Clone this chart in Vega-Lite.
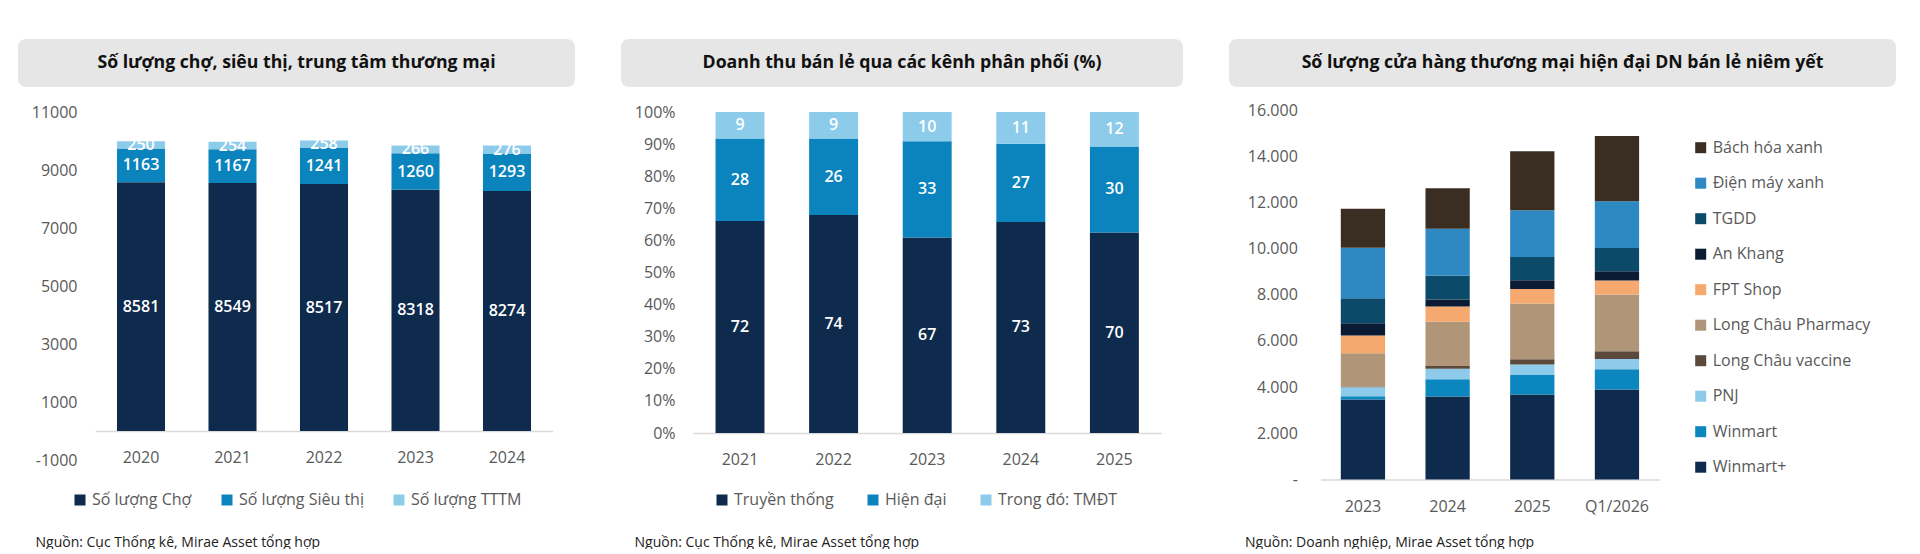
{
  "$schema": "https://vega.github.io/schema/vega-lite/v6.json",
  "background": "white",
  "padding": {"left": 18, "top": 39, "right": 0, "bottom": 0},
  "autosize": {"type": "pad"},
  "spacing": 46,
  "resolve": {"scale": {"x": "independent", "y": "independent", "color": "independent"}, "legend": {"color": "independent"}, "axis": {"x": "independent", "y": "independent"}},
  "config": {
    "font": "Open Sans",
    "view": {"stroke": null},
    "axis": {"labelFont": "Open Sans", "titleFont": "Open Sans", "labelOverlap": false},
    "legend": {"labelFont": "Open Sans", "padding": 0}
  },
  "hconcat": [
    {
      "bounds": "flush",
      "spacing": 25,
      "resolve": {"scale": {"x": "independent", "y": "independent", "color": "independent"}, "legend": {"color": "independent"}},
      "vconcat": [
        {
          "width": 557, "height": 48,
          "view": {"fill": "#e6e6e6", "stroke": null, "cornerRadius": 8},
          "data": {"values": [{"t": "Số lượng chợ, siêu thị, trung tâm thương mại"}]},
          "mark": {"type": "text", "fontSize": 17.7, "fontWeight": "bold", "color": "#111111"},
          "encoding": {"text": {"field": "t"}}
        },
        {
          "width": 557, "height": 348,
          "data": {"values": [
            {"period": "2020", "series": "Số lượng Chợ", "value": 8581},
            {"period": "2020", "series": "Số lượng Siêu thị", "value": 1163},
            {"period": "2020", "series": "Số lượng TTTM", "value": 250},
            {"period": "2021", "series": "Số lượng Chợ", "value": 8549},
            {"period": "2021", "series": "Số lượng Siêu thị", "value": 1167},
            {"period": "2021", "series": "Số lượng TTTM", "value": 254},
            {"period": "2022", "series": "Số lượng Chợ", "value": 8517},
            {"period": "2022", "series": "Số lượng Siêu thị", "value": 1241},
            {"period": "2022", "series": "Số lượng TTTM", "value": 258},
            {"period": "2023", "series": "Số lượng Chợ", "value": 8318},
            {"period": "2023", "series": "Số lượng Siêu thị", "value": 1260},
            {"period": "2023", "series": "Số lượng TTTM", "value": 266},
            {"period": "2024", "series": "Số lượng Chợ", "value": 8274},
            {"period": "2024", "series": "Số lượng Siêu thị", "value": 1293},
            {"period": "2024", "series": "Số lượng TTTM", "value": 276}
          ]},
          "transform": [
            {"calculate": "indexof(['Số lượng Chợ','Số lượng Siêu thị','Số lượng TTTM'], datum.series)", "as": "k"},
            {"stack": "value", "groupby": ["period"], "sort": [{"field": "k"}], "as": ["v0", "v1"]},
            {"calculate": "(datum.v0 + datum.v1) / 2", "as": "vm"}
          ],
          "encoding": {
            "x": {
              "field": "period", "type": "ordinal", "sort": null,
              "scale": {"range": [77.25, 534.75], "paddingInner": 0.475, "paddingOuter": 0.2375},
              "axis": {
                "labelAngle": 0, "labelFontSize": 16, "labelColor": "#595959", "labelPadding": 18,
                "ticks": false, "domainColor": "#d9d9d9", "domainWidth": 1.5, "offset": -29,
                "title": "Nguồn: Cục Thống kê, Mirae Asset tổng hợp",
                "titleX": 17, "titleY": 111, "titleAlign": "left", "titleAnchor": "start", "titleBaseline": "middle",
                "titleFontSize": 14, "titleFontWeight": "normal", "titleColor": "#222222"
              }
            }
          },
          "layer": [
            {
              "mark": {"type": "bar"},
              "encoding": {
                "y": {
                  "field": "v0", "type": "quantitative",
                  "scale": {"domain": [-1000, 11000], "nice": false, "zero": false},
                  "axis": {
                    "values": [-1000, 1000, 3000, 5000, 7000, 9000, 11000],
                    "labelExpr": "'' + datum.value", "labelOverlap": false,
                    "labelFontSize": 16, "labelColor": "#595959", "domain": false, "ticks": false, "grid": false,
                    "offset": -59, "labelPadding": 0, "title": null
                  }
                },
                "y2": {"field": "v1"},
                "color": {
                  "field": "series", "type": "nominal",
                  "scale": {"domain": ["Số lượng Chợ", "Số lượng Siêu thị", "Số lượng TTTM"], "range": ["#0e2a4d", "#0b84bd", "#8dcbea"]},
                  "legend": {
                    "orient": "none", "legendX": 54, "legendY": 380, "direction": "horizontal", "title": null,
                    "symbolType": "square", "symbolSize": 121, "symbolStrokeWidth": 0,
                    "labelFontSize": 16, "labelColor": "#595959", "columnPadding": 27, "labelOffset": 4, "labelLimit": 300
                  }
                }
              }
            },
            {
              "mark": {"type": "text", "color": "white", "fontSize": 16, "fontWeight": 600},
              "encoding": {
                "y": {"field": "vm", "type": "quantitative"},
                "text": {"field": "value", "type": "quantitative", "format": "d"}
              }
            }
          ]
        }
      ]
    },
    {
      "bounds": "flush",
      "spacing": 25,
      "resolve": {"scale": {"x": "independent", "y": "independent", "color": "independent"}, "legend": {"color": "independent"}},
      "vconcat": [
        {
          "width": 562, "height": 48,
          "view": {"fill": "#e6e6e6", "stroke": null, "cornerRadius": 8},
          "data": {"values": [{"t": "Doanh thu bán lẻ qua các kênh phân phối (%)"}]},
          "mark": {"type": "text", "fontSize": 17.7, "fontWeight": "bold", "color": "#111111"},
          "encoding": {"text": {"field": "t"}}
        },
        {
          "width": 562, "height": 321,
          "data": {"values": [
            {"period": "2021", "series": "Truyền thống", "value": 72},
            {"period": "2021", "series": "Hiện đại", "value": 28},
            {"period": "2021", "series": "Trong đó: TMĐT", "value": 9},
            {"period": "2022", "series": "Truyền thống", "value": 74},
            {"period": "2022", "series": "Hiện đại", "value": 26},
            {"period": "2022", "series": "Trong đó: TMĐT", "value": 9},
            {"period": "2023", "series": "Truyền thống", "value": 67},
            {"period": "2023", "series": "Hiện đại", "value": 33},
            {"period": "2023", "series": "Trong đó: TMĐT", "value": 10},
            {"period": "2024", "series": "Truyền thống", "value": 73},
            {"period": "2024", "series": "Hiện đại", "value": 27},
            {"period": "2024", "series": "Trong đó: TMĐT", "value": 11},
            {"period": "2025", "series": "Truyền thống", "value": 70},
            {"period": "2025", "series": "Hiện đại", "value": 30},
            {"period": "2025", "series": "Trong đó: TMĐT", "value": 12}
          ]},
          "transform": [
            {"calculate": "indexof(['Truyền thống','Hiện đại','Trong đó: TMĐT'], datum.series)", "as": "k"},
            {"stack": "value", "groupby": ["period"], "sort": [{"field": "k"}], "offset": "normalize", "as": ["v0", "v1"]},
            {"calculate": "(datum.v0 + datum.v1) / 2", "as": "vm"}
          ],
          "encoding": {
            "x": {
              "field": "period", "type": "ordinal", "sort": null,
              "scale": {"range": [72.2, 540.2], "paddingInner": 0.477, "paddingOuter": 0.2385},
              "axis": {
                "labelAngle": 0, "labelFontSize": 16, "labelColor": "#595959", "labelPadding": 18,
                "ticks": false, "domainColor": "#d9d9d9", "domainWidth": 1.5,
                "title": "Nguồn: Cục Thống kê, Mirae Asset tổng hợp",
                "titleX": 13, "titleY": 109, "titleAlign": "left", "titleAnchor": "start", "titleBaseline": "middle",
                "titleFontSize": 14, "titleFontWeight": "normal", "titleColor": "#222222"
              }
            }
          },
          "layer": [
            {
              "mark": {"type": "bar"},
              "encoding": {
                "y": {
                  "field": "v0", "type": "quantitative",
                  "scale": {"domain": [0, 1], "nice": false},
                  "axis": {
                    "values": [0, 0.1, 0.2, 0.3, 0.4, 0.5, 0.6, 0.7, 0.8, 0.9, 1],
                    "labelExpr": "round(datum.value * 100) + '%'",
                    "labelOverlap": false, "labelSeparation": 0, "tickCount": 11,
                    "labelFontSize": 16, "labelColor": "#595959", "domain": false, "ticks": false, "grid": false,
                    "offset": -54, "labelPadding": 0, "title": null
                  }
                },
                "y2": {"field": "v1"},
                "color": {
                  "field": "series", "type": "nominal",
                  "scale": {"domain": ["Truyền thống", "Hiện đại", "Trong đó: TMĐT"], "range": ["#0e2a4d", "#0b84bd", "#8dcbea"]},
                  "legend": {
                    "orient": "none", "legendX": 93, "legendY": 380, "direction": "horizontal", "title": null,
                    "symbolType": "square", "symbolSize": 121, "symbolStrokeWidth": 0,
                    "labelFontSize": 16, "labelColor": "#595959", "columnPadding": 31, "labelOffset": 4, "labelLimit": 300
                  }
                }
              }
            },
            {
              "mark": {"type": "text", "color": "white", "fontSize": 16, "fontWeight": 600},
              "encoding": {
                "y": {"field": "vm", "type": "quantitative"},
                "text": {"field": "value", "type": "quantitative", "format": "d"}
              }
            }
          ]
        }
      ]
    },
    {
      "bounds": "flush",
      "spacing": 23,
      "resolve": {"scale": {"x": "independent", "y": "independent", "color": "independent"}, "legend": {"color": "independent"}},
      "vconcat": [
        {
          "width": 667, "height": 48,
          "view": {"fill": "#e6e6e6", "stroke": null, "cornerRadius": 8},
          "data": {"values": [{"t": "Số lượng cửa hàng thương mại hiện đại DN bán lẻ niêm yết"}]},
          "mark": {"type": "text", "fontSize": 17.7, "fontWeight": "bold", "color": "#111111"},
          "encoding": {"text": {"field": "t"}}
        },
        {
          "width": 667, "height": 369.5,
          "data": {"values": [
            {"period": "2023", "series": "Winmart+", "value": 3460},
            {"period": "2023", "series": "Winmart", "value": 140},
            {"period": "2023", "series": "PNJ", "value": 400},
            {"period": "2023", "series": "Long Châu vaccine", "value": 30},
            {"period": "2023", "series": "Long Châu Pharmacy", "value": 1440},
            {"period": "2023", "series": "FPT Shop", "value": 770},
            {"period": "2023", "series": "An Khang", "value": 530},
            {"period": "2023", "series": "TGDD", "value": 1080},
            {"period": "2023", "series": "Điện máy xanh", "value": 2180},
            {"period": "2023", "series": "Bách hóa xanh", "value": 1690},
            {"period": "2024", "series": "Winmart+", "value": 3590},
            {"period": "2024", "series": "Winmart", "value": 750},
            {"period": "2024", "series": "PNJ", "value": 460},
            {"period": "2024", "series": "Long Châu vaccine", "value": 110},
            {"period": "2024", "series": "Long Châu Pharmacy", "value": 1920},
            {"period": "2024", "series": "FPT Shop", "value": 660},
            {"period": "2024", "series": "An Khang", "value": 300},
            {"period": "2024", "series": "TGDD", "value": 1030},
            {"period": "2024", "series": "Điện máy xanh", "value": 2035},
            {"period": "2024", "series": "Bách hóa xanh", "value": 1760},
            {"period": "2025", "series": "Winmart+", "value": 3680},
            {"period": "2025", "series": "Winmart", "value": 865},
            {"period": "2025", "series": "PNJ", "value": 435},
            {"period": "2025", "series": "Long Châu vaccine", "value": 230},
            {"period": "2025", "series": "Long Châu Pharmacy", "value": 2410},
            {"period": "2025", "series": "FPT Shop", "value": 630},
            {"period": "2025", "series": "An Khang", "value": 380},
            {"period": "2025", "series": "TGDD", "value": 1010},
            {"period": "2025", "series": "Điện máy xanh", "value": 2020},
            {"period": "2025", "series": "Bách hóa xanh", "value": 2555},
            {"period": "Q1/2026", "series": "Winmart+", "value": 3895},
            {"period": "Q1/2026", "series": "Winmart", "value": 880},
            {"period": "Q1/2026", "series": "PNJ", "value": 445},
            {"period": "Q1/2026", "series": "Long Châu vaccine", "value": 335},
            {"period": "Q1/2026", "series": "Long Châu Pharmacy", "value": 2455},
            {"period": "Q1/2026", "series": "FPT Shop", "value": 605},
            {"period": "Q1/2026", "series": "An Khang", "value": 400},
            {"period": "Q1/2026", "series": "TGDD", "value": 1010},
            {"period": "Q1/2026", "series": "Điện máy xanh", "value": 2020},
            {"period": "Q1/2026", "series": "Bách hóa xanh", "value": 2830}
          ]},
          "transform": [
            {"calculate": "indexof(['Winmart+','Winmart','PNJ','Long Châu vaccine','Long Châu Pharmacy','FPT Shop','An Khang','TGDD','Điện máy xanh','Bách hóa xanh'], datum.series)", "as": "k"},
            {"stack": "value", "groupby": ["period"], "sort": [{"field": "k"}], "as": ["v0", "v1"]}
          ],
          "mark": {"type": "bar"},
          "encoding": {
            "x": {
              "field": "period", "type": "ordinal", "sort": null,
              "scale": {"range": [91.6, 430.3], "paddingInner": 0.477, "paddingOuter": 0.2385},
              "axis": {
                "labelAngle": 0, "labelFontSize": 16, "labelColor": "#595959", "labelPadding": 19,
                "ticks": false, "domainColor": "#d9d9d9", "domainWidth": 1.5,
                "title": "Nguồn: Doanh nghiệp, Mirae Asset tổng hợp",
                "titleX": 15.5, "titleY": 62.5, "titleAlign": "left", "titleAnchor": "start", "titleBaseline": "middle",
                "titleFontSize": 14, "titleFontWeight": "normal", "titleColor": "#222222"
              }
            },
            "y": {
              "field": "v0", "type": "quantitative",
              "scale": {"domain": [0, 16000], "nice": false},
              "axis": {
                "values": [0, 2000, 4000, 6000, 8000, 10000, 12000, 14000, 16000],
                "labelExpr": "datum.value == 0 ? '-\u00a0\u00a0' : replace(format(datum.value, ','), ',', '.')",
                "labelOverlap": false,
                "labelFontSize": 16, "labelColor": "#595959", "domain": false, "ticks": false, "grid": false,
                "offset": -68.3, "labelPadding": 0, "title": null
              }
            },
            "y2": {"field": "v1"},
            "color": {
              "field": "series", "type": "nominal",
              "scale": {
                "domain": ["Bách hóa xanh", "Điện máy xanh", "TGDD", "An Khang", "FPT Shop", "Long Châu Pharmacy", "Long Châu vaccine", "PNJ", "Winmart", "Winmart+"],
                "range": ["#3a2e22", "#2e88c2", "#0c4a6a", "#0a1b33", "#f6a96e", "#b19579", "#5b4a3b", "#8ecbeb", "#0b86bf", "#0e2a4d"]
              },
              "legend": {
                "orient": "none", "legendX": 463.7, "legendY": 29.7, "direction": "vertical", "title": null,
                "symbolType": "square", "symbolSize": 121, "symbolStrokeWidth": 0,
                "labelFontSize": 16, "labelColor": "#595959", "rowPadding": 19.5, "labelOffset": 4, "labelLimit": 300
              }
            }
          }
        }
      ]
    }
  ]
}
